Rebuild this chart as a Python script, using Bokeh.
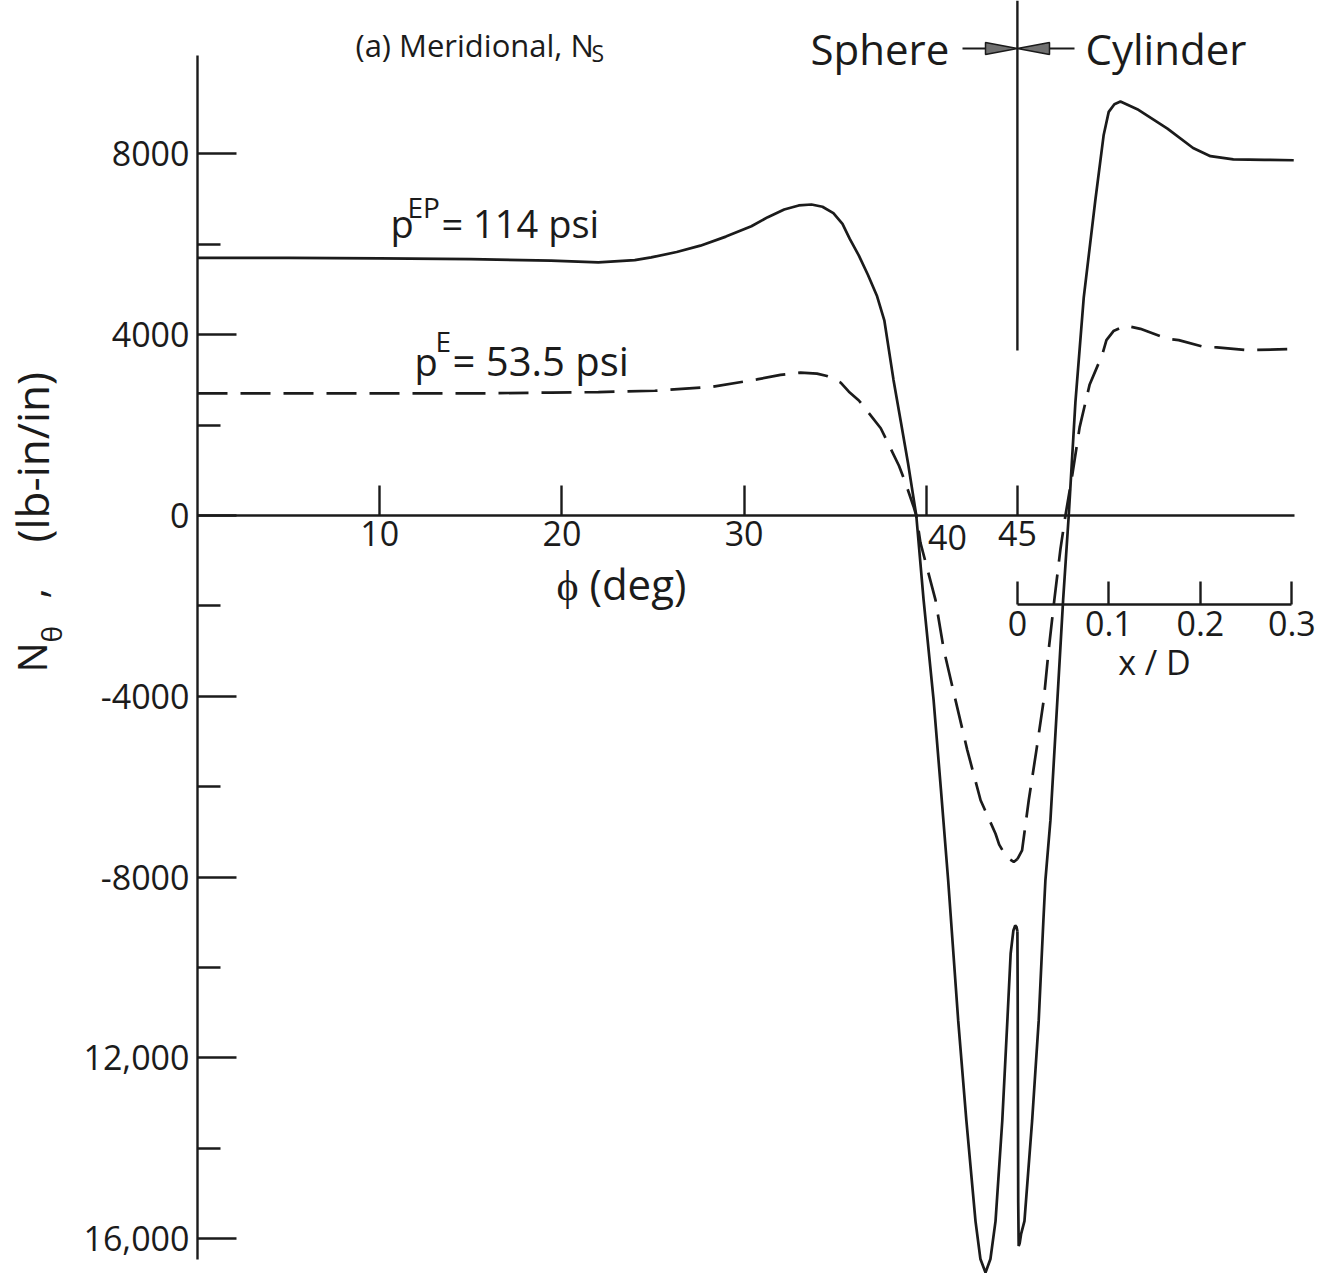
import math
from bokeh.plotting import figure
from bokeh.models import Range1d, LinearAxis, FixedTicker, Label
from bokeh.embed import file_html
from bokeh.resources import INLINE

# ---------------- data ----------------
# Sphere part, abscissa phi (deg)
phi_ep = [0, 5, 10, 15, 19.4, 22, 24, 24.9, 26.3, 27.6, 29, 30.4, 31.3, 32.2, 33.0, 33.7,
          34.3, 34.9, 35.4, 35.8, 36.3, 36.8, 37.3, 37.7, 38.2, 38.6, 39.0, 39.45, 39.85,
          40.4, 40.8, 41.2, 41.75, 42.2, 42.7, 42.97, 43.25, 43.52, 43.8, 44.17, 44.45,
          44.63, 44.78, 44.88, 44.95, 45.0]
n_ep_sph = [5700, 5700, 5690, 5670, 5640, 5600, 5650, 5710, 5830, 5970, 6170, 6400, 6600,
            6770, 6860, 6880, 6830, 6690, 6450, 6120, 5750, 5320, 4850, 4310, 3000, 2080,
            1150, 0, -1860, -4080, -6050, -8070, -11170, -13390, -15610, -16450, -16750,
            -16450, -15610, -13390, -11170, -9690, -9180, -9070, -9100, -9200]

phi_e = [0, 5, 10, 15, 19.4, 22, 25.1, 28.3, 30.7, 32.0, 33.1, 34.0, 34.55, 35.3, 35.75,
         36.3, 37.5, 37.85, 38.5, 38.84, 39.3, 39.45, 39.68, 40.5, 40.96, 41.6, 42.25,
         42.98, 43.8, 44.0, 44.4, 44.8, 45.0]
n_e_sph = [2700, 2700, 2700, 2700, 2720, 2730, 2760, 2850, 3010, 3110, 3160, 3140, 3085,
           2940, 2740, 2545, 1930, 1640, 1100, 740, 200, 0, -605, -1860, -2970, -4080,
           -5190, -6300, -7040, -7280, -7560, -7665, -7600]

# Cylinder part, abscissa x/D
xd_ep = [0.0, 0.0003, 0.0006, 0.0009, 0.0014, 0.0025, 0.004, 0.0077, 0.0161, 0.0233,
         0.0284, 0.0306, 0.0361, 0.0437, 0.05, 0.0561, 0.0634, 0.0725, 0.0852, 0.0943,
         0.0998, 0.106, 0.1126, 0.131, 0.164, 0.192, 0.211, 0.236, 0.27, 0.302]
n_ep_cyl = [-9200, -10500, -13000, -15200, -16160, -16100, -15900, -15610, -13390, -11170,
            -8960, -8070, -6740, -4080, -1860, 0, 2510, 4820, 6980, 8420, 8930, 9100, 9160,
            8990, 8560, 8130, 7950, 7880, 7870, 7860]

xd_e = [0.0, 0.0051, 0.0124, 0.0208, 0.0288, 0.0342, 0.0404, 0.047, 0.0525, 0.06, 0.068,
        0.079, 0.0926, 0.0973, 0.105, 0.118, 0.1344, 0.1636, 0.1763, 0.2036, 0.218, 0.251,
        0.2976]
n_e_cyl = [-7600, -7410, -6300, -5190, -4080, -2970, -1860, -750, 0, 900, 1950, 2900, 3550,
           3880, 4080, 4200, 4130, 3910, 3880, 3730, 3720, 3660, 3680]

y_ticks = [8000, 4000, 0, -4000, -8000, -12000, -16000]
y_minor = [6000, 2000, -2000, -6000, -10000, -14000]
y_tick_labels = ["8000", "4000", "0", "-4000", "-8000", "12,000", "16,000"]
phi_ticks = [10, 20, 30, 40, 45]
xd_ticks = [0, 0.1, 0.2, 0.3]
xd_tick_labels = ["0", "0.1", "0.2", "0.3"]

# ---------------- layout ----------------
W, H = 1335, 1274
X0, PPD = 197.0, 18.22        # pixel of phi=0, pixels per degree
Y0, PPK = 515.0, 45.2         # pixel of N=0, pixels per 1000 lb-in/in
PPXD = 915.0                  # pixels per unit x/D

def X(px):
    return (px - X0) / PPD

def Y(py):
    return (Y0 - py) / PPK * 1000.0

x_start, x_end = X(0), X(W)
y_start, y_end = Y(H), Y(0)
deg_per_xd = PPXD / PPD
cyl_start = (x_start - 45) / deg_per_xd
cyl_end = (x_end - 45) / deg_per_xd

INK = "#1b1b1b"
FONT = "Open Sans"

p = figure(width=W, height=H, x_range=Range1d(x_start, x_end),
           y_range=Range1d(y_start, y_end), output_backend="svg",
           toolbar_location=None, min_border=0, x_axis_type=None, y_axis_type=None)
p.extra_x_ranges = {"cyl": Range1d(cyl_start, cyl_end)}
p.outline_line_color = None
p.background_fill_color = "white"
p.border_fill_color = "white"

def style_axis(ax, size="34px"):
    ax.axis_line_color = INK
    ax.axis_line_width = 2.4
    ax.major_tick_line_color = INK
    ax.major_tick_line_width = 2.4
    ax.minor_tick_line_color = INK
    ax.minor_tick_line_width = 2.4
    ax.major_tick_out = 0
    ax.minor_tick_out = 0
    ax.major_label_text_font = FONT
    ax.major_label_text_font_size = size
    ax.major_label_text_color = INK

# y axis (at phi = 0)
yax = LinearAxis(fixed_location=0, bounds=(-16450, Y(55)),
                 ticker=FixedTicker(ticks=y_ticks, minor_ticks=y_minor),
                 major_label_overrides={t: s for t, s in zip(y_ticks, y_tick_labels)})
style_axis(yax)
yax.major_tick_in = 39
yax.minor_tick_in = 23
yax.major_label_standoff = 8
p.add_layout(yax, "left")

# phi axis (at N = 0)
xax = LinearAxis(fixed_location=0, bounds=(0, X(1294)),
                 ticker=FixedTicker(ticks=phi_ticks),
                 major_label_overrides={40: ""})
style_axis(xax)
xax.major_tick_in = 30
xax.major_label_standoff = 5
p.add_layout(xax, "below")

# x/D axis for the cylinder
cax = LinearAxis(x_range_name="cyl", fixed_location=Y(604), bounds=(0, 0.3),
                 ticker=FixedTicker(ticks=xd_ticks),
                 major_label_overrides={t: s for t, s in zip(xd_ticks, xd_tick_labels)},
                 axis_label="x / D")
style_axis(cax)
cax.major_tick_in = 23
cax.major_label_standoff = 6
cax.axis_label_text_font = FONT
cax.axis_label_text_font_size = "34px"
cax.axis_label_text_font_style = "normal"
cax.axis_label_text_color = INK
cax.axis_label_standoff = 0
p.add_layout(cax, "below")

# curves
p.line(phi_ep, n_ep_sph, line_color=INK, line_width=2.7)
p.line(xd_ep, n_ep_cyl, x_range_name="cyl", line_color=INK, line_width=2.7)
p.line(phi_e, n_e_sph, line_color=INK, line_width=2.7, line_dash="30 13")
p.line(xd_e, n_e_cyl, x_range_name="cyl", line_color=INK, line_width=2.7, line_dash="30 13")

# sphere / cylinder junction line
p.segment(x0=[45], y0=[y_end], x1=[45], y1=[Y(350)], line_color=INK, line_width=2.4)

# arrows "Sphere -> <- Cylinder"
ya = Y(48)
hw = 6 / PPK * 1000
p.segment(x0=[X(962), X(1047)], y0=[ya, ya], x1=[X(990), X(1074)], y1=[ya, ya],
          line_color=INK, line_width=2.2)
p.patches(xs=[[X(985), 45, X(985)], [X(1049), 45, X(1049)]],
          ys=[[ya + hw, ya, ya - hw], [ya + hw, ya, ya - hw]],
          fill_color="#707070", line_color=INK, line_width=1.5)

def lab(x, y, text, size, align="left", baseline="alphabetic", angle=0.0):
    p.add_layout(Label(x=x, y=y, text=text, text_font=FONT, text_font_size=size,
                       text_color=INK, text_align=align, text_baseline=baseline,
                       angle=angle))

# texts
lab(X(355), Y(44), "(a) Meridional, N", "31px")
lab(X(591), Y(52), "S", "23px")
lab(X(810), ya, "Sphere", "42px", baseline="middle")
lab(X(1085), ya, "Cylinder", "42px", baseline="middle")

lab(X(390), Y(222), "p", "38px")
lab(X(407), Y(206), "EP", "28px")
lab(X(441), Y(222), "= 114 psi", "38px")

lab(X(414), Y(360), "p", "38px")
lab(X(435), Y(340), "E", "28px")
lab(X(452), Y(360), "= 53.5 psi", "40px")

lab(X(947), Y(537), "40", "34px", align="center", baseline="middle")
lab(X(556), Y(583), "\u03d5 (deg)", "42px", baseline="middle")

# y-axis title, rotated
lab(X(31), Y(672), "N", "40px", angle=math.pi / 2)
lab(X(50), Y(642), "\u03b8", "28px", angle=math.pi / 2)
lab(X(31), Y(598), ",", "40px", angle=math.pi / 2)
lab(X(31), Y(542), "(lb-in/in)", "44px", angle=math.pi / 2)

open("out.html", "w").write(file_html(p, INLINE))
